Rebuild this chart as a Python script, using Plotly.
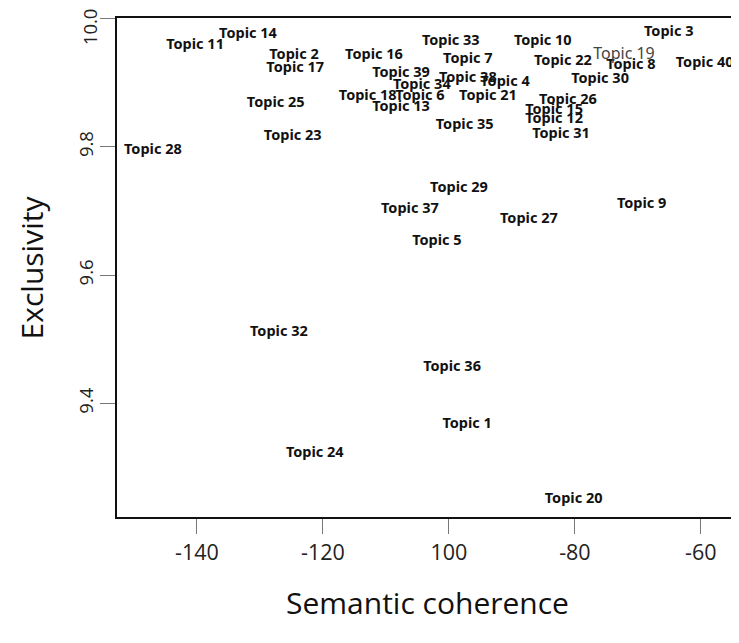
import plotly.graph_objects as go

topics = ["Topic 1", "Topic 2", "Topic 3", "Topic 4", "Topic 5", "Topic 6", "Topic 7", "Topic 8",
          "Topic 9", "Topic 10", "Topic 11", "Topic 12", "Topic 13", "Topic 14", "Topic 15", "Topic 16",
          "Topic 17", "Topic 18", "Topic 19", "Topic 20", "Topic 21", "Topic 22", "Topic 23", "Topic 24",
          "Topic 25", "Topic 26", "Topic 27", "Topic 28", "Topic 29", "Topic 30", "Topic 31", "Topic 32",
          "Topic 33", "Topic 34", "Topic 35", "Topic 36", "Topic 37", "Topic 38", "Topic 39", "Topic 40"]
semantic_coherence = [-97.1, -124.6, -65.1, -91.1, -101.9, -104.6, -97.0, -71.1,
                      -69.4, -85.1, -140.3, -83.3, -107.6, -131.9, -83.3, -111.9,
                      -124.4, -112.9, -72.2, -80.2, -93.8, -81.9, -124.8, -121.3,
                      -127.5, -81.1, -87.3, -147.0, -98.4, -76.0, -82.2, -127.0,
                      -99.7, -104.3, -97.5, -99.5, -106.2, -97.0, -107.6, -59.4]
exclusivity = [9.367, 9.943, 9.978, 9.901, 9.653, 9.879, 9.936, 9.927,
               9.710, 9.964, 9.958, 9.843, 9.862, 9.975, 9.857, 9.943,
               9.922, 9.879, 9.943, 9.251, 9.879, 9.933, 9.816, 9.322,
               9.868, 9.873, 9.687, 9.795, 9.735, 9.905, 9.820, 9.510,
               9.964, 9.896, 9.834, 9.456, 9.702, 9.907, 9.915, 9.930]
plain_label = "Topic 19"

x_tickvals = [-140, -120, -100, -80, -60]
x_ticktext = ["-140", "-120", "100", "-80", "-60"]
y_tickvals = [9.4, 9.6, 9.8, 10.0]
y_ticktext = ["9.4", "9.6", "9.8", "10.0"]

bold_x = [x for t, x in zip(topics, semantic_coherence) if t != plain_label]
bold_y = [y for t, y in zip(topics, exclusivity) if t != plain_label]
bold_t = [f"<b>{t}</b>" for t in topics if t != plain_label]
pl_x = [x for t, x in zip(topics, semantic_coherence) if t == plain_label]
pl_y = [y for t, y in zip(topics, exclusivity) if t == plain_label]
pl_t = [t for t in topics if t == plain_label]

fig = go.Figure()
fig.add_trace(go.Scatter(x=bold_x, y=bold_y, text=bold_t, mode="text",
                         textposition="middle center",
                         textfont=dict(family="Noto Sans", size=14.5, color="#111111"),
                         showlegend=False, hoverinfo="skip", cliponaxis=False))
fig.add_trace(go.Scatter(x=pl_x, y=pl_y, text=pl_t, mode="text",
                         textposition="middle center",
                         textfont=dict(family="Noto Sans", size=16, color="#444444"),
                         showlegend=False, hoverinfo="skip", cliponaxis=False))

xtickfont = dict(family="Open Sans", size=21.5, color="#222222")
ytickfont = dict(family="Open Sans", size=18.5, color="#222222")
# the top tick label is drawn as an annotation, nudged down so it stays inside the page
shown_y_ticktext = y_ticktext[:-1] + [""]
fig.update_layout(
    width=739, height=643,
    margin=dict(l=109, r=9, t=8, b=134),
    plot_bgcolor="white", paper_bgcolor="white",
    xaxis=dict(range=[-152.7, -54.1], tickvals=x_tickvals, ticktext=x_ticktext,
               showgrid=False, zeroline=False, showline=True, mirror=True,
               linecolor="#111111", linewidth=2, ticks="outside", ticklen=15,
               tickcolor="#777777", tickwidth=1.3, tickfont=xtickfont),
    yaxis=dict(range=[9.223, 10.0008], tickvals=y_tickvals, ticktext=shown_y_ticktext,
               showgrid=False, zeroline=False, showline=True, mirror=True,
               linecolor="#111111", linewidth=2, ticks="outside", ticklen=15,
               tickcolor="#777777", tickwidth=1.3, tickangle=-90, tickfont=ytickfont,
               automargin=False),
    annotations=[
        dict(text=y_ticktext[-1], xref="paper", x=-0.044, yref="y", y=y_tickvals[-1],
             xanchor="center", yanchor="middle", textangle=-90, yshift=-8,
             showarrow=False, font=ytickfont),
        dict(text="Semantic coherence", xref="paper", yref="paper", x=0.5, y=-0.172,
             xanchor="center", yanchor="middle", showarrow=False,
             font=dict(family="Open Sans", size=30, color="#111111")),
        dict(text="Exclusivity", xref="paper", x=-0.137, yref="paper", y=0.5,
             xanchor="center", yanchor="middle", textangle=-90, showarrow=False,
             font=dict(family="Open Sans", size=30, color="#111111")),
    ],
)
fig.write_html("out.html")
